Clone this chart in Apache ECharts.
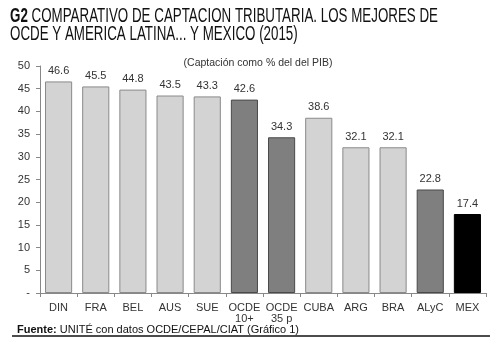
<!DOCTYPE html>
<html><head><meta charset="utf-8">
<script src="https://cdn.jsdelivr.net/npm/echarts@6/dist/echarts.min.js"></script>
<style>html,body{margin:0;padding:0;background:#fff}#c{width:500px;height:356px}</style>
</head><body><div id="c"></div>
<script>
var categories = ['DIN','FRA','BEL','AUS','SUE','OCDE\n10+','OCDE\n35 p','CUBA','ARG','BRA','ALyC','MEX'];
var values = [46.6,45.5,44.8,43.5,43.3,42.6,34.3,38.6,32.1,32.1,22.8,17.4];
var shades = ['light','light','light','light','light','dark','dark','light','light','light','dark','black'];
var yTicks = [0,5,10,15,20,25,30,35,40,45,50];
var palette = {light:['#d3d3d3','#8a8a8a'], dark:['#7f7f7f','#4a4a4a'], black:['#000000','#000000']};

var titleLine1 = ' COMPARATIVO DE CAPTACION TRIBUTARIA. LOS MEJORES DE';
var titleLine2 = 'OCDE Y AMERICA LATINA... Y MEXICO (2015)';
var ctx = document.createElement('canvas').getContext('2d');
ctx.font = 'bold 20px "Liberation Sans"';
var wB = ctx.measureText('G2').width;
ctx.font = '20px "Liberation Sans"';
var w1 = wB + ctx.measureText(titleLine1).width;
var sx = 428 / w1;

var chart = echarts.init(document.getElementById('c'));
chart.setOption({
  animation:false,
  title:[{
    text:'(Captación como % del del PIB)', left:253, top:53, textAlign:'center',
    textStyle:{fontFamily:'Liberation Sans',fontSize:10.5,fontWeight:'normal',color:'#333'}
  },{
    text:'{b|Fuente:} UNITÉ con datos OCDE/CEPAL/CIAT (Gráfico 1)', left:12, top:319,
    textStyle:{fontFamily:'Liberation Sans',fontSize:11,fontWeight:'normal',color:'#111',
      rich:{b:{fontFamily:'Liberation Sans',fontSize:11,fontWeight:'bold',color:'#111'}}}
  }],
  graphic:[
    {type:'line',shape:{x1:12,y1:336,x2:490,y2:336},style:{stroke:'#111',lineWidth:1.5}},
    {type:'text',x:10,y:7,scaleX:sx,scaleY:1.05,style:{text:'{b|G2}'+titleLine1+'\n'+titleLine2,
      font:'20px "Liberation Sans"',fill:'#111',lineHeight:17.5,
      rich:{b:{fontFamily:'Liberation Sans',fontSize:20,fontWeight:'bold',fill:'#111'}}}}
  ],
  grid:{left:40,right:14,top:66,bottom:63,containLabel:false},
  xAxis:{type:'category',data:categories,
    axisLine:{lineStyle:{color:'#888'}},
    axisTick:{show:true,length:4,lineStyle:{color:'#888'}},
    axisLabel:{fontFamily:'Liberation Sans',fontSize:11,color:'#333',margin:9,lineHeight:11,interval:0}},
  yAxis:{type:'value',min:0,max:50,interval:5,
    axisLine:{show:true,lineStyle:{color:'#888'}},
    axisTick:{show:true,length:4,lineStyle:{color:'#888'}},
    splitLine:{show:false},
    axisLabel:{fontFamily:'Liberation Sans',fontSize:11,color:'#333',margin:10,
      formatter:function(v){return v===yTicks[0]?'-':String(v);}}},
  series:[{type:'bar',barCategoryGap:'27%',
    data:values.map(function(v,i){var p=palette[shades[i]];return {value:v,itemStyle:{color:p[0],borderColor:p[1],borderWidth:1}};}),
    label:{show:true,position:'top',distance:5,fontFamily:'Liberation Sans',fontSize:11,color:'#333'}
  }]
});
</script></body></html>
